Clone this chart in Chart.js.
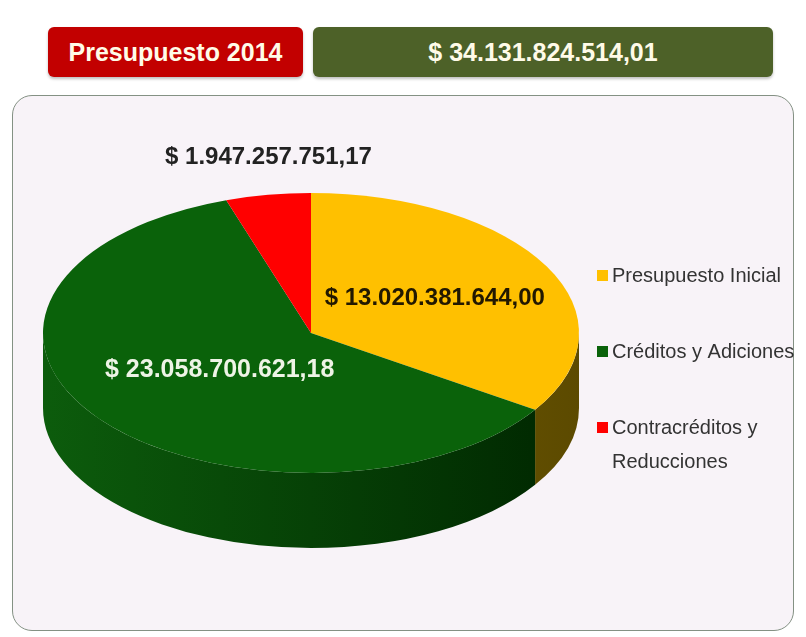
<!DOCTYPE html>
<html>
<head>
<meta charset="utf-8">
<script src="https://cdn.jsdelivr.net/npm/chart.js@4"></script>
<style>
  html, body { margin:0; padding:0; width:806px; height:637px; background:#ffffff; overflow:hidden; }
  .hdr { position:absolute; top:27px; height:50px; border-radius:6px; color:#fffbe8;
         font-family:"Liberation Sans",sans-serif; font-weight:bold;
         font-size:25px; display:flex; align-items:center; justify-content:center;
         box-shadow:0 2px 3px rgba(0,0,0,0.25); }
  #h1 { left:48px; width:255px; background:#c20000; }
  #h2 { left:313px; width:460px; background:#4d6128; }
  #panel { position:absolute; left:12px; top:95px; width:780px; height:534px; border:1.5px solid #849184;
           border-radius:20px; background:#f8f3f8; }
  #c { position:absolute; left:0; top:0; }
</style>
</head>
<body>
<div id="h1" class="hdr"></div>
<div id="h2" class="hdr"></div>
<div id="panel"></div>
<canvas id="c" width="806" height="637"></canvas>
<script>
// ---- data ----
const headerTitle = 'Presupuesto 2014';
const categories = ['Presupuesto Inicial', 'Créditos y Adiciones', 'Contracréditos y Reducciones'];
const values = [13020381644.00, 23058700621.18, 1947257751.17];
const totalBudget = values[0] + values[1] - values[2];

// ---- styles ----
const topColors = ['#ffc000', '#0a620a', '#ff0000'];
const sideColors = [['#8a7000', '#5c4a00'], ['#0c5c0c', '#002600'], ['#b00000', '#700000']];
const labelColors = ['#221800', '#eef4e6', '#222222'];
const labelRadius = [0.525, 0.43, 1.27];
const labelDx = [0, 0, 12];
const labelSizes = [24, 25, 24];
const squash = 140 / 268;
const depth = 75;
const FONT = '"Liberation Sans",sans-serif';

function fmt(v) {
  const s = v.toFixed(2).split('.');
  const intPart = s[0].replace(/\B(?=(\d{3})+(?!\d))/g, '.');
  return '$ ' + intPart + ',' + s[1];
}
document.getElementById('h1').textContent = headerTitle;
document.getElementById('h2').textContent = fmt(totalBudget);

const pie3d = {
  id: 'pie3d',
  beforeDatasetsDraw(chart) {
    const ctx = chart.ctx;
    const arcs = chart.getDatasetMeta(0).data;
    const cx = arcs[0].x, cy = arcs[0].y, R = arcs[0].outerRadius, ry = R * squash;
    arcs.forEach((a, i) => {
      const s = a.startAngle, e = a.endAngle;
      [[-2 * Math.PI, -Math.PI], [0, Math.PI], [2 * Math.PI, 3 * Math.PI]].forEach(([f0, f1]) => {
        const t1 = Math.max(s, f0), t2 = Math.min(e, f1);
        if (t2 <= t1) return;
        const g = ctx.createLinearGradient(cx - R, 0, cx + R, 0);
        g.addColorStop(0, sideColors[i][0]);
        g.addColorStop(1, sideColors[i][1]);
        ctx.save();
        ctx.beginPath();
        ctx.ellipse(cx, cy, R, ry, 0, t1, t2, false);
        ctx.lineTo(cx + R * Math.cos(t2), cy + ry * Math.sin(t2) + depth);
        ctx.ellipse(cx, cy + depth, R, ry, 0, t2, t1, true);
        ctx.closePath();
        ctx.fillStyle = g;
        ctx.fill();
        ctx.restore();
      });
    });
    ctx.save();
    ctx.translate(cx, cy);
    ctx.scale(1, squash);
    ctx.translate(-cx, -cy);
  },
  afterDatasetsDraw(chart) {
    const ctx = chart.ctx;
    ctx.restore();
    const arcs = chart.getDatasetMeta(0).data;
    const cx = arcs[0].x, cy = arcs[0].y, R = arcs[0].outerRadius, ry = R * squash;
    const data = chart.data.datasets[0].data;
    ctx.save();
    ctx.textAlign = 'center';
    ctx.textBaseline = 'middle';
    arcs.forEach((a, i) => {
      const m = (a.startAngle + a.endAngle) / 2;
      const f = labelRadius[i];
      ctx.font = 'bold ' + labelSizes[i] + 'px ' + FONT;
      ctx.fillStyle = labelColors[i];
      ctx.fillText(fmt(data[i]), cx + R * f * Math.cos(m) + labelDx[i], cy + ry * f * Math.sin(m));
    });
    // legend
    ctx.textAlign = 'left';
    ctx.font = '20px ' + FONT;
    const lx = 597, ly0 = 276, step = 76, maxW = 185;
    chart.data.labels.forEach((lab, i) => {
      const y = ly0 + i * step;
      ctx.fillStyle = topColors[i];
      ctx.fillRect(lx, y - 6, 11, 11);
      const words = lab.split(' ');
      const lines = [];
      let cur = '';
      words.forEach(w => {
        const t = cur ? cur + ' ' + w : w;
        if (ctx.measureText(t).width > maxW && cur) { lines.push(cur); cur = w; } else cur = t;
      });
      lines.push(cur);
      ctx.fillStyle = '#333333';
      lines.forEach((ln, j) => ctx.fillText(ln, lx + 15, y + j * 34));
    });
    ctx.restore();
  }
};

new Chart(document.getElementById('c'), {
  type: 'pie',
  data: {
    labels: categories,
    datasets: [{ data: values, backgroundColor: topColors, borderWidth: 0 }]
  },
  options: {
    responsive: false,
    animation: false,
    events: [],
    layout: { padding: { left: 43, right: 227, top: 65, bottom: 36 } },
    plugins: { legend: { display: false }, tooltip: { enabled: false } }
  },
  plugins: [pie3d]
});
</script>
</body>
</html>
